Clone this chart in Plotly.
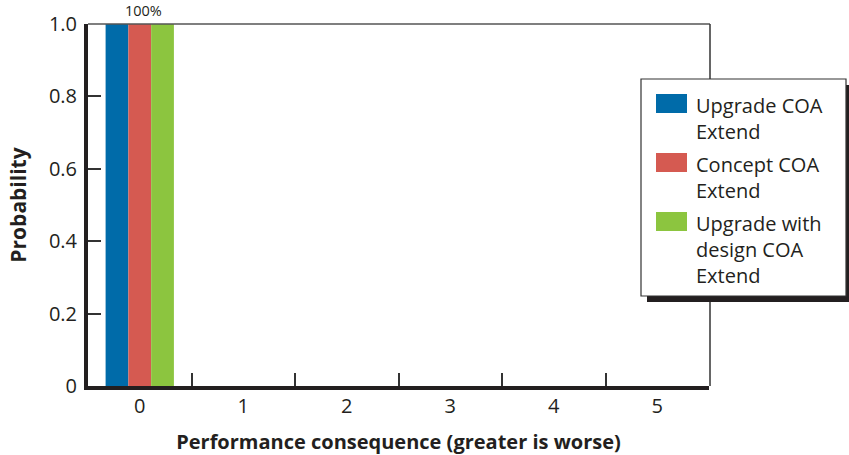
import plotly.graph_objects as go

# Data
categories = ["0", "1", "2", "3", "4", "5"]
series_names = ["Upgrade COA<br>Extend", "Concept COA<br>Extend", "Upgrade with<br>design COA<br>Extend"]
upgrade_values = [1.0, 0, 0, 0, 0, 0]
concept_values = [1.0, 0, 0, 0, 0, 0]
design_values = [1.0, 0, 0, 0, 0, 0]
series_values = [upgrade_values, concept_values, design_values]
colors = ["#006BA9", "#D55A51", "#8CC53F"]
y_tickvals = [0, 0.2, 0.4, 0.6, 0.8, 1.0]
y_ticktext = ["0", "0.2", "0.4", "0.6", "0.8", "1.0"]

W, H = 849, 455
L, R, T, B = 88, 709, 24, 386  # plot area in pixels
FONT = "Open Sans"
INK = "#231F20"


def px(x):
    return (x - L) / (R - L)


def py(y):
    return (B - y) / (B - T)


fig = go.Figure()
for name, vals, col in zip(series_names, series_values, colors):
    fig.add_trace(go.Bar(x=categories, y=vals, name=name.replace("<br>", " "),
                         marker=dict(color=col, line=dict(width=0)),
                         showlegend=False))

# value label over the group at category 0
fig.add_annotation(x=categories[0], y=max(upgrade_values), xref="x", yref="y",
                   text=f"{max(upgrade_values) * 100:.0f}%", showarrow=False,
                   yanchor="bottom", yshift=2, xshift=4,
                   font=dict(family=FONT, size=14.5, color=INK))

shapes = []
# thin top and right frame
shapes.append(dict(type="line", xref="paper", yref="paper", x0=0, x1=px(710), y0=1, y1=1,
                   line=dict(color="#555555", width=1.5)))
shapes.append(dict(type="line", xref="paper", yref="paper", x0=px(710), x1=px(710), y0=0, y1=1,
                   line=dict(color="#333333", width=1.5)))

# legend box with drop shadow
lx0, lx1, ly0, ly1 = 641, 846, 79, 296
shapes.append(dict(type="rect", xref="paper", yref="paper", x0=px(lx0 + 6), x1=px(lx1 + 5),
                   y0=py(ly1 + 6), y1=py(ly0 + 6), fillcolor="#231F20", line=dict(width=0)))
shapes.append(dict(type="rect", xref="paper", yref="paper", x0=px(lx0), x1=px(lx1),
                   y0=py(ly1), y1=py(ly0), fillcolor="white", line=dict(color="#333333", width=1.2)))

item_tops = [94, 153, 212]
for name, col, top in zip(series_names, colors, item_tops):
    shapes.append(dict(type="rect", xref="paper", yref="paper", x0=px(656), x1=px(687),
                       y0=py(top + 19), y1=py(top), fillcolor=col, line=dict(width=0)))
    fig.add_annotation(xref="paper", yref="paper", x=px(694), y=py(top - 4),
                       xanchor="left", yanchor="top", align="left", showarrow=False,
                       text=name, font=dict(family=FONT, size=20, color=INK))

fig.update_layout(
    width=W, height=H,
    margin=dict(l=L, r=W - R, t=T, b=H - B, pad=0),
    paper_bgcolor="white", plot_bgcolor="white",
    barmode="group", bargap=0.34, bargroupgap=0,
    shapes=shapes,
    font=dict(family=FONT, color=INK),
    xaxis=dict(type="category", categoryorder="array", categoryarray=categories,
               automargin=False,
               showline=True, linewidth=4, linecolor=INK,
               ticks="inside", tickson="boundaries", ticklen=13, tickwidth=1.5, tickcolor="#333333",
               tickfont=dict(family=FONT, size=20, color=INK), ticklabelstandoff=-1,
               showgrid=False, zeroline=False,
               title=dict(text="<b>Performance consequence (greater is worse)</b>",
                          font=dict(family=FONT, size=20, color=INK), standoff=18)),
    yaxis=dict(range=[0, 1], tickvals=y_tickvals, ticktext=y_ticktext,
               automargin=False,
               showline=True, linewidth=4, linecolor=INK,
               ticks="inside", ticklen=13, tickwidth=1.5, tickcolor="#333333",
               tickfont=dict(family=FONT, size=20, color=INK), ticklabelstandoff=3,
               showgrid=False, zeroline=False,
               title=dict(text="<b>Probability</b>",
                          font=dict(family=FONT, size=21, color=INK), standoff=18)),
)

fig.write_html("out.html")
